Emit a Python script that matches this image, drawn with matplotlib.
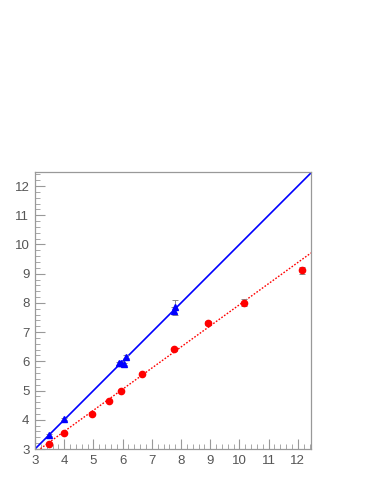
import matplotlib
matplotlib.use("Agg")
import matplotlib.pyplot as plt
from matplotlib.ticker import MultipleLocator
import numpy as np

# Blue series (triangles)
blue_x = [3.47, 3.99, 5.89, 5.93, 6.06, 6.13, 7.77, 7.80]
blue_y = [3.48, 4.02, 5.93, 5.96, 5.91, 6.16, 7.74, 7.85]
blue_err = [0.03, 0.03, 0.05, 0.05, 0.05, 0.05, 0.12, 0.25]

# Red series (circles)
red_x = [3.47, 3.99, 4.95, 5.54, 5.95, 6.66, 7.77, 8.94, 10.17, 12.14]
red_y = [3.17, 3.56, 4.19, 4.65, 4.99, 5.56, 6.42, 7.31, 8.00, 9.11]
red_err = [0.03, 0.03, 0.03, 0.03, 0.03, 0.04, 0.05, 0.07, 0.12, 0.13]

# Fit lines
blue_fit = (1.0, 0.0)
red_fit = (0.723, 0.708)

xlim = (3.0, 12.45)
ylim = (3.0, 12.48)

plt.rcParams['font.family'] = ['Liberation Sans', 'DejaVu Sans']

fig = plt.figure(figsize=(3.74, 4.84), dpi=100)
ax = fig.add_axes([35/374, 35/484, (311-35)/374, (449-172)/484])

xs = np.array(xlim)
ax.plot(xs, blue_fit[0]*xs + blue_fit[1], color="#0000ff", lw=1.2, zorder=2)
ax.plot(xs, red_fit[0]*xs + red_fit[1], color="#ff0000", lw=1.0, ls=(0, (1.2, 1.2)), zorder=2)

ax.errorbar(blue_x, blue_y, yerr=blue_err, fmt="none", ecolor="#888888", elinewidth=0.7, capsize=2, capthick=0.7, zorder=3)
ax.errorbar(red_x, red_y, yerr=red_err, fmt="none", ecolor="#888888", elinewidth=0.7, capsize=2, capthick=0.7, zorder=3)
ax.plot(blue_x, blue_y, "^", color="#0000ff", ms=4.5, mec="#0000ff", ls="none", zorder=4)
ax.plot(red_x, red_y, "o", color="#ff0000", ms=4.5, mec="#ff0000", ls="none", zorder=4)

ax.set_xlim(*xlim)
ax.set_ylim(*ylim)
ax.xaxis.set_major_locator(MultipleLocator(1))
ax.yaxis.set_major_locator(MultipleLocator(1))
ax.xaxis.set_minor_locator(MultipleLocator(0.2))
ax.yaxis.set_minor_locator(MultipleLocator(0.2))
ax.tick_params(which="both", direction="in", color="#999999", labelcolor="#555555",
               labelsize=9.5, top=False, right=False)
ax.tick_params(which="major", length=7, width=0.8)
ax.tick_params(which="minor", length=3.5, width=0.6)
ax.tick_params(axis="x", pad=4)
ax.tick_params(axis="y", pad=4)
for s in ax.spines.values():
    s.set_color("#999999")
    s.set_linewidth(0.9)

fig.savefig("out.png", dpi=100)
